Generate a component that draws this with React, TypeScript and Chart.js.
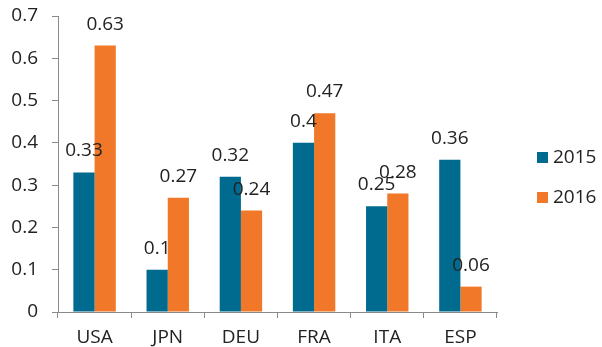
import React, { useEffect, useRef } from "react";
import { Chart, registerables } from "chart.js";

Chart.register(...registerables);

const categories = ["USA", "JPN", "DEU", "FRA", "ITA", "ESP"];
const values2015 = [0.33, 0.1, 0.32, 0.4, 0.25, 0.36];
const values2016 = [0.63, 0.27, 0.24, 0.47, 0.28, 0.06];
const seriesNames = ["2015", "2016"];
const seriesColors = ["#006a8f", "#f07828"];

const FONT = "'Open Sans', 'Noto Sans', sans-serif";
const SIZE = 19;
const TEXT = "#222222";
const AXIS = "#8a8a8a";

// Value printed above each bar
const valueLabels = {
  id: "valueLabels",
  afterDatasetsDraw(chart: any) {
    const ctx = chart.ctx;
    ctx.save();
    ctx.font = `${SIZE}px ${FONT}`;
    ctx.fillStyle = TEXT;
    ctx.textAlign = "center";
    ctx.textBaseline = "alphabetic";
    chart.data.datasets.forEach((ds: any, i: number) => {
      const meta = chart.getDatasetMeta(i);
      meta.data.forEach((el: any, j: number) => {
        ctx.fillText(String(ds.data[j]), el.x, el.y - 16);
      });
    });
    ctx.restore();
  },
};

// Legend stacked to the right of the plot
const sideLegend = {
  id: "sideLegend",
  afterDraw(chart: any) {
    const ctx = chart.ctx;
    const area = chart.chartArea;
    const x = area.right + 40;
    ctx.save();
    ctx.font = `${SIZE}px ${FONT}`;
    ctx.textBaseline = "middle";
    ctx.textAlign = "left";
    chart.data.datasets.forEach((ds: any, i: number) => {
      const cy = 158 + i * 40;
      ctx.fillStyle = ds.backgroundColor;
      ctx.fillRect(x, cy - 6, 11, 11);
      ctx.fillStyle = TEXT;
      ctx.fillText(ds.label, x + 16, cy);
    });
    ctx.restore();
  },
};

export default function App() {
  const ref = useRef<HTMLCanvasElement>(null);

  useEffect(() => {
    document.body.style.margin = "0";
    const chart = new Chart(ref.current!, {
      type: "bar",
      data: {
        labels: categories,
        datasets: [
          { label: seriesNames[0], data: values2015, backgroundColor: seriesColors[0] },
          { label: seriesNames[1], data: values2016, backgroundColor: seriesColors[1] },
        ],
      },
      options: {
        animation: false,
        responsive: false,
        maintainAspectRatio: false,
        layout: { padding: { top: 0, right: 105, left: 4, bottom: 0 } },
        datasets: {
          bar: { categoryPercentage: 0.58, barPercentage: 1 },
        },
        plugins: {
          legend: { display: false },
          tooltip: { enabled: false },
        },
        scales: {
          x: {
            grid: { drawOnChartArea: false, drawTicks: true, tickLength: 6, color: AXIS, offset: true },
            border: { color: AXIS, width: 1 },
            ticks: { color: TEXT, font: { family: FONT, size: SIZE }, padding: 8 },
            afterFit(scale: any) {
              scale.height = 35;
              scale.paddingLeft = 0;
              scale.paddingRight = 0;
            },
          },
          y: {
            min: 0,
            max: 0.7,
            grid: { drawOnChartArea: false, drawTicks: true, tickLength: 6, color: AXIS },
            border: { color: AXIS, width: 1 },
            ticks: { stepSize: 0.1, color: TEXT, font: { family: FONT, size: SIZE }, padding: 14 },
            afterFit(scale: any) {
              scale.width = 54;
              scale.paddingTop = 16;
              scale.paddingBottom = 0;
            },
          },
        },
      },
      plugins: [valueLabels, sideLegend],
    });
    return () => chart.destroy();
  }, []);

  return (
    <div style={{ width: 602, height: 347, background: "#ffffff" }}>
      <canvas ref={ref} width={602} height={347} />
    </div>
  );
}
